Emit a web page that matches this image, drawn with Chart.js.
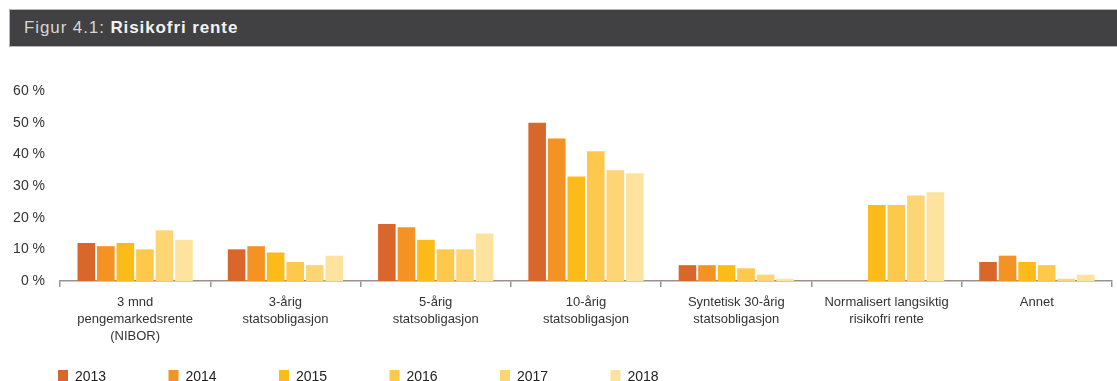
<!DOCTYPE html>
<html lang="no">
<head>
<meta charset="utf-8">
<title>Risikofri rente</title>
<script src="https://cdn.jsdelivr.net/npm/chart.js@4/dist/chart.umd.min.js"></script>
<style>
  html, body { margin: 0; padding: 0; background: #fff; }
  body { width: 1117px; height: 381px; position: relative; overflow: hidden; font-family: "Liberation Sans", Arial, sans-serif; }
  #tittel {
    position: absolute; left: 9px; top: 9px; right: 0; height: 36px;
    background: #414143; border: 1px solid #b8b8b8; border-right: 0;
    color: #d6d6d6; font-size: 17px; line-height: 36px; padding-left: 14px;
    letter-spacing: 0.9px;
  }
  #tittel b { color: #f2f2f2; }
  #wrap { position: absolute; left: 0; top: 0; width: 1117px; height: 381px; }
</style>
</head>
<body>
<div id="wrap"><canvas id="risikofri-canvas" width="1117" height="381"></canvas></div>
<div id="tittel">Figur 4.1: <b>Risikofri rente</b></div>
<script>
// Kategorier (flere linjer per etikett)
const kategorier = [
  ['3 mnd', 'pengemarkedsrente', '(NIBOR)'],
  ['3-årig', 'statsobligasjon'],
  ['5-årig', 'statsobligasjon'],
  ['10-årig', 'statsobligasjon'],
  ['Syntetisk 30-årig', 'statsobligasjon'],
  ['Normalisert langsiktig', 'risikofri rente'],
  ['Annet']
];

// Andel i prosent per år
const aar = ['2013', '2014', '2015', '2016', '2017', '2018'];
const v2013 = [12, 10, 18, 50, 5, null, 6];
const v2014 = [11, 11, 17, 45, 5, null, 8];
const v2015 = [12, 9, 13, 33, 5, 24, 6];
const v2016 = [10, 6, 10, 41, 4, 24, 5];
const v2017 = [16, 5, 10, 35, 2, 27, 0.7];
const v2018 = [13, 8, 15, 34, 0.7, 28, 2];
const yTicks = [0, 10, 20, 30, 40, 50, 60];

const farger = ['#d9662a', '#f49324', '#fdbb1a', '#fdc84b', '#fed574', '#fee39f'];
const serier = [v2013, v2014, v2015, v2016, v2017, v2018];

Chart.defaults.font.family = '"Liberation Sans", Arial, sans-serif';
Chart.defaults.color = '#333';

// Egen forklaring nederst, fast avstand mellom elementene
const forklaring = {
  id: 'forklaring',
  afterDraw(chart) {
    const ctx = chart.ctx;
    ctx.save();
    ctx.font = '14px "Liberation Sans", Arial, sans-serif';
    ctx.textBaseline = 'middle';
    chart.data.datasets.forEach((ds, i) => {
      const x = 58 + i * 110.5;
      ctx.fillStyle = ds.backgroundColor;
      ctx.fillRect(x, 370, 10, 12);
      ctx.fillStyle = '#222';
      ctx.fillText(ds.label, x + 17, 377);
    });
    ctx.restore();
  }
};

const ctx = document.getElementById('risikofri-canvas').getContext('2d');
window.risikofriChart = new Chart(ctx, {
  type: 'bar',
  data: {
    labels: kategorier,
    datasets: aar.map((a, i) => ({
      label: a,
      data: serier[i],
      backgroundColor: farger[i],
      borderWidth: 0,
      categoryPercentage: 0.78,
      barPercentage: 0.9
    }))
  },
  options: {
    responsive: false,
    animation: false,
    layout: { padding: { top: 91, right: 5, left: 0, bottom: 0 } },
    plugins: {
      legend: { display: false },
      tooltip: { enabled: false }
    },
    scales: {
      x: {
        offset: true,
        grid: {
          offset: true,
          drawOnChartArea: false,
          drawTicks: true,
          tickLength: 6,
          color: '#9b918c',
          lineWidth: 1.5
        },
        border: { display: true, color: '#9b918c', width: 1.5 },
        ticks: {
          maxRotation: 0,
          autoSkip: false,
          padding: 7,
          color: '#333',
          font: { size: 13, lineHeight: 1.3 }
        },
        afterFit(scale) { scale.height = 100; }
      },
      y: {
        min: 0,
        max: 60,
        grid: { display: false, drawTicks: false },
        border: { display: false },
        afterBuildTicks(scale) { scale.ticks = yTicks.map(v => ({ value: v })); },
        ticks: {
          padding: 15,
          color: '#333',
          font: { size: 14 },
          callback: v => v + ' %'
        },
        afterFit(scale) { scale.width = 60; }
      }
    }
  },
  plugins: [forklaring]
});
</script>
</body>
</html>
